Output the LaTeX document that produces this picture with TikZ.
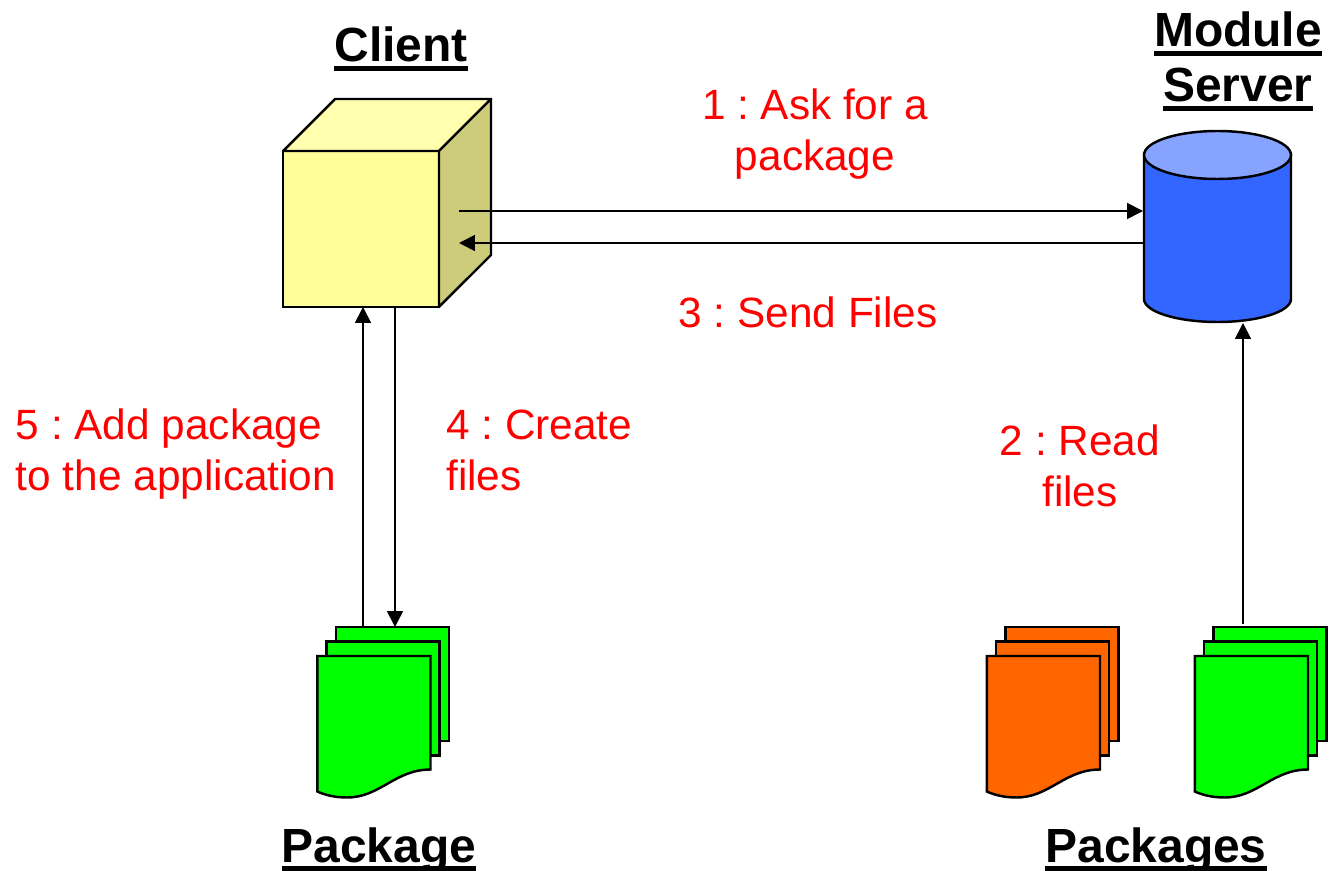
\documentclass[tikz,border=0pt]{standalone}
\usepackage{fontspec}
\setmainfont{Liberation Sans}
\usetikzlibrary{arrows.meta,shapes.geometric}
\definecolor{cubefront}{HTML}{FFFF99}
\definecolor{cubetop}{HTML}{FFFFAD}
\definecolor{cubeside}{HTML}{CCCC7A}
\definecolor{dbtop}{HTML}{85A3FF}
\definecolor{dbbody}{HTML}{3366FF}
\definecolor{sheetgreen}{HTML}{00FF00}
\definecolor{sheetorange}{HTML}{FF6600}
\newcommand{\paperstack}[3]{
	\node[sheet, fill=#3] (#1back) at (392.4+#2,684.2){};
	\node[sheet, fill=#3] (#1mid) at (383+#2,698.4){};
	\path[shape line, fill=#3] (317.3+#2,656) -- (430.5+#2,656) -- (430.5+#2,769.5) .. controls (395+#2,769.5) and (380+#2,797.5) .. (347+#2,797.5) .. controls (335+#2,797.5) and (325+#2,795) .. (317.3+#2,791.5) -- cycle;
}
\newcommand{\titleline}[1]{\sbox0{#1}\rlap{\rule[-5.2pt]{\wd0}{2.9pt}}\box0}
\frenchspacing
\begin{document}
\begin{tikzpicture}[x=0.02cm, y=-0.02cm, shape line/.style={draw=black, line width=1.4pt, line join=miter},
	sheet/.style={shape line, rectangle, inner sep=0, outer sep=0, minimum width=2.26cm, minimum height=2.28cm},
	link/.style={draw=black, line width=1pt, -{Triangle[length=9pt, width=9pt]}},
	step text/.style={text=red, font=\fontsize{24.1}{29}\selectfont, inner sep=0},
	title text/.style={font=\fontsize{27.3}{31.3}\selectfont\bfseries, inner sep=0, align=center, anchor=base}]
	\useasboundingbox (0,0) rectangle (1339,871);

	\node[shape line, fill=cubefront, rectangle, inner sep=0, outer sep=0, minimum size=3.12cm] (client) at (361,229){};
	\path[shape line, fill=cubetop, line join=round] (client.north west) -- ++(52,-52) -- ++(156,0) -- (client.north east) -- cycle;
	\path[shape line, fill=cubeside, line join=round] (client.north east) -- ++(52,-52) -- ++(0,156) -- (client.south east) -- cycle;

	\path[shape line, fill=dbbody] (1144,155) -- (1144,299) .. controls (1144,311.7) and (1177,322) .. (1217.5,322) .. controls (1258,322) and (1291,311.7) .. (1291,299) -- (1291,155) -- cycle;
	\node[ellipse, shape line, fill=dbtop, inner sep=0, outer sep=0, minimum width=2.94cm, minimum height=0.96cm] (server) at (1217.5,155){};

	\paperstack{package}{0}{sheetgreen}
	\paperstack{oldfiles}{669.5}{sheetorange}
	\paperstack{newfiles}{877.5}{sheetgreen}

	\coordinate (askstart) at (459,211);
	\coordinate (askend) at (1143,211);
	\coordinate (sendstart) at (1144,243);
	\coordinate (sendend) at (459,243);
	\coordinate (addstart) at (363,627);
	\coordinate (addend) at (363,307);
	\coordinate (createstart) at (395,307);
	\coordinate (createend) at (395,627);
	\coordinate (readstart) at (1243,624);
	\coordinate (readend) at (1243,323);

	\draw[link] (askstart) -- (askend);
	\draw[link] (sendstart) -- (sendend);
	\draw[link] (addstart) -- (addend);
	\draw[link] (createstart) -- (createend);
	\draw[link] (readstart) -- (readend);

	\node[title text] (clienttitle) at (401,62) {\titleline{Client}};
	\node[title text] (moduletitle) at (1238,47) {\titleline{Module}};
	\node[title text] (servertitle) at (1238,101.5) {\titleline{Server}};
	\node[title text] (packagetitle) at (379,862) {\titleline{Package}};
	\node[title text] (packagestitle) at (1156,862) {\titleline{Packages}};

	\node[step text, align=center] (ask) at (815,134) {1 : Ask for a\\package};
	\node[step text, align=center] (send) at (808,312) {3 : Send Files};
	\node[step text, align=left] (add) at (176,454) {5 : Add package\\to the application};
	\node[step text, align=left, anchor=west] (create) at (446,450) {4 : Create\\files};
	\node[step text, align=center] (read) at (1080,466) {2 : Read\\files};
\end{tikzpicture}
\end{document}
